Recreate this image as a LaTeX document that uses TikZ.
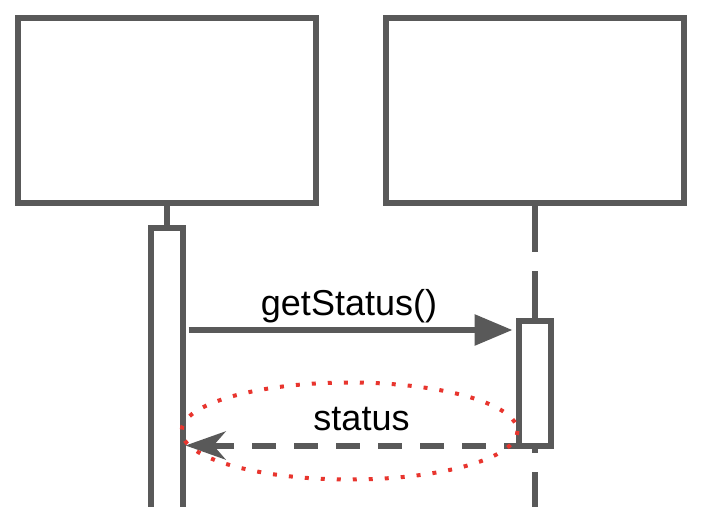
\documentclass[tikz,border=0pt]{standalone}
\usepackage{fontspec}
\setmainfont{Liberation Sans}
\usetikzlibrary{positioning, arrows.meta, calc}

\definecolor{linegray}{HTML}{595959}
\definecolor{markred}{HTML}{E8352E}

\begin{document}
\begin{tikzpicture}[x=1pt, y=-1pt,
  lifebox/.style={draw=linegray, line width=6pt, fill=white, inner sep=0pt,
                  minimum width=298pt, minimum height=185pt},
  actbar/.style={draw=linegray, line width=6pt, fill=white, inner sep=0pt,
                 minimum width=32pt},
  lifeline/.style={draw=linegray, line width=6pt},
  msg/.style={draw=linegray, line width=6pt},
  lbl/.style={font=\fontsize{36}{40}\selectfont, inner sep=0pt, anchor=base},
]
\useasboundingbox (0,0) rectangle (706,506);
\clip (0,0) rectangle (706,506);

%% ---- Participants ----

\node[lifebox] (client) at (166.5,110.5) {};
\node[lifebox] (server) at (534.5,110.5) {};

\coordinate (serverend) at (534.5,530);
\coordinate (callrow)   at (0,330);
\coordinate (replyrow)  at (0,445.5);

%% ---- Lifelines and activation bars ----

\draw[lifeline, dash pattern=on 48pt off 19pt, dash phase=2pt]
    (server.south) -- (serverend);

\node[actbar, minimum height=292pt]   (clientact) at (166.5,374) {};
\node[actbar, minimum height=124.5pt] (serveract) at (534.5,383.25) {};

\draw[lifeline] (client.south) -- (clientact.north);

%% ---- Messages ----

\draw[msg, -{Triangle[length=38pt, width=30pt]}, shorten <=3pt, shorten >=3pt]
    (clientact.east |- callrow) -- (serveract.west |- callrow);
\node[lbl] (calllbl) at (349,315) {getStatus()};

\draw[msg, dash pattern=on 24pt off 18pt, dash phase=12pt,
      -{Stealth[length=40pt, width=28pt, inset=12pt]}]
    (serveract.west |- replyrow) -- (clientact.east |- replyrow);
\node[lbl] (replylbl) at (361.5,430) {status};

%% ---- Highlight ----

\draw[markred, line width=4pt, dash pattern=on 4pt off 12pt]
    (349.5,431) ellipse [x radius=168, y radius=48.5];

\end{tikzpicture}
\end{document}
